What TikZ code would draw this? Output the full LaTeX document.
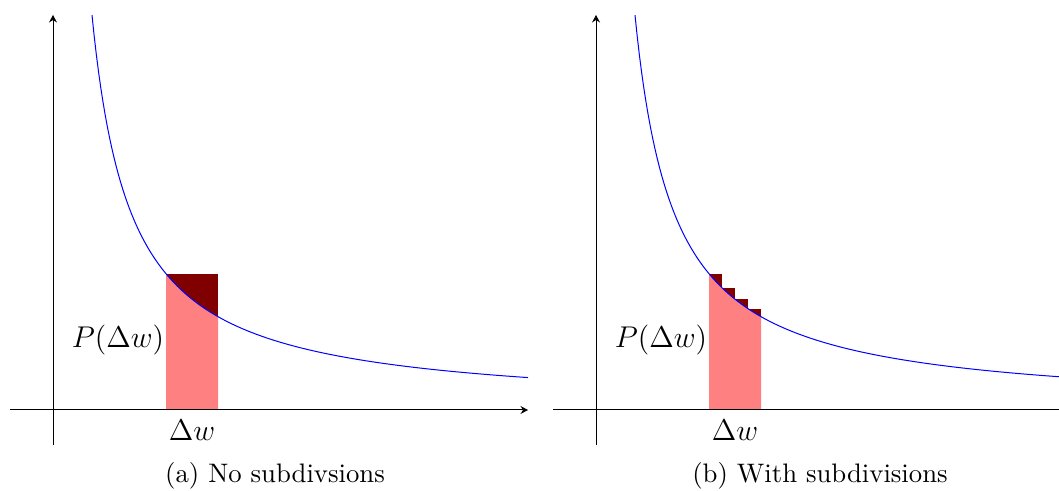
\documentclass[tikz,border=0pt]{standalone}
\usepackage{amsmath}
\usetikzlibrary{arrows.meta}
\definecolor{barpink}{HTML}{FF8080}
\definecolor{bardark}{HTML}{800000}
\begin{document}
\begin{tikzpicture}[x=0.4pt,y=-0.4pt,
  axis/.style={-{Stealth[length=3pt,width=3.2pt,inset=1pt]},line width=0.4pt},
  curve/.style={blue,line width=0.4pt},
  lab/.style={font=\large,inner sep=0pt},
  captext/.style={font=\fontsize{10.7}{13}\selectfont,inner sep=0pt}]
\useasboundingbox (0,0) rectangle (1059,491);
\clip (0,0) rectangle (1059,491);
% ---------- panel (a) ----------
\begin{scope}
\coordinate (ya0) at (53,445);
\coordinate (ya1) at (53,15);
\coordinate (xa0) at (10,410);
\coordinate (xa1) at (528,410);
\fill[bardark] (166,274) rectangle (218,410);
\fill[barpink] (166,410) -- plot[domain=113:165,samples=40] ({53+\x},{410-15400/\x}) -- (218,410) -- cycle;
\draw[axis] (ya0) -- (ya1);
\draw[axis] (xa0) -- (xa1);
\draw[curve] plot[domain=39:475,samples=200] ({53+\x},{410-15400/\x});
\node[lab] (pa) at (118,340) {$P(\Delta w)$};
\node[lab] (wa) at (192,430) {$\Delta w$};
\node[captext] (ca) at (275,476) {(a) No subdivsions};
\end{scope}
% ---------- panel (b) ----------
\begin{scope}[xshift=543*0.4pt]
\coordinate (yb0) at (53,445);
\coordinate (yb1) at (53,15);
\coordinate (xb0) at (10,410);
\coordinate (xb1) at (528,410);
\foreach \a in {113,126,139,152}{
  \fill[bardark] ({53+\a},{410-15400/\a}) rectangle ({53+\a+13},410);
}
\fill[barpink] (166,410) -- plot[domain=113:165,samples=40] ({53+\x},{410-15400/\x}) -- (218,410) -- cycle;
\draw[axis] (yb0) -- (yb1);
\draw[axis] (xb0) -- (xb1);
\draw[curve] plot[domain=39:475,samples=200] ({53+\x},{410-15400/\x});
\node[lab] (pb) at (118,340) {$P(\Delta w)$};
\node[lab] (wb) at (192,430) {$\Delta w$};
\node[captext] (cb) at (277,476) {(b) With subdivisions};
\end{scope}
\end{tikzpicture}
\end{document}
